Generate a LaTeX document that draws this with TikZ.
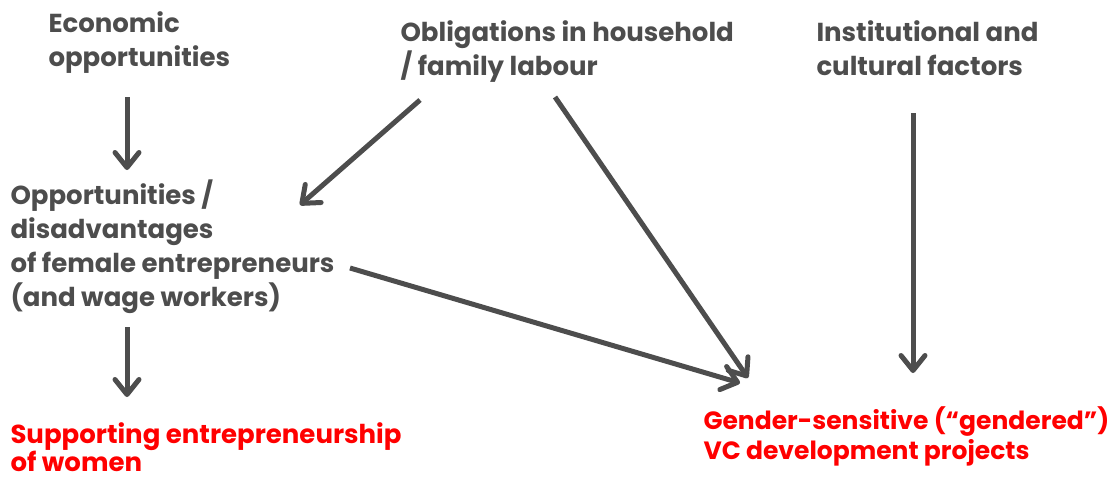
\documentclass[tikz,border=0pt]{standalone}
\usepackage{fontspec}
\setmainfont{Poppins}
\usetikzlibrary{positioning,arrows.meta}
\definecolor{darkgrey}{HTML}{4D4D4D}
\definecolor{signalred}{HTML}{FF0000}
\tikzset{
	->,  % every connector is directed
	>={Straight Barb[length=15pt,width=24pt,round]}, % open chevron heads
}

\begin{document}
\begin{tikzpicture}[x=1pt,y=-1pt,
	line width=5pt, draw=darkgrey,
	factor/.style={anchor=north west, inner sep=0pt, align=left, text=darkgrey, font=\bfseries\fontsize{26}{34}\selectfont},
	aim/.style={factor, text=signalred, font=\bfseries\fontsize{26}{27}\selectfont},
	]
	\useasboundingbox (0,0) rectangle (1113,480);
	%Nodes
	\node[factor] (econ)   at (46,9)   {Economic\\opportunities};
	\node[factor] (oblig)  at (398,18) {Obligations in household\\/ family labour};
	\node[factor] (inst)   at (814,18) {Institutional and\\cultural factors};
	\node[factor] (opp)    at (8,177)  {Opportunities /\\disadvantages\\of female entrepreneurs\\(and wage workers)};
	\node[aim]    (women)  at (8,420)  {Supporting entrepreneurship\\of women};
	\node[aim, font=\bfseries\fontsize{25}{30}\selectfont] (gender) at (701,404) {Gender-sensitive (``gendered'')\\VC development projects};

	%Lines
	\draw ([shift={(81,88)}]econ.north west) -- ([shift={(119,-7)}]opp.north west);
	\draw ([shift={(22,82)}]oblig.north west) -- ([shift={(292,28)}]opp.north west);
	\draw ([shift={(157,79)}]oblig.north west) -- ([shift={(47,-26)}]gender.north west);
	\draw ([shift={(342,91)}]opp.north west) -- ([shift={(39,-21)}]gender.north west);
	\draw ([shift={(99,95)}]inst.north west) -- ([shift={(212,-31)}]gender.north west);
	\draw ([shift={(119,150)}]opp.north west) -- ([shift={(119,-23)}]women.north west);
\end{tikzpicture}
\end{document}
